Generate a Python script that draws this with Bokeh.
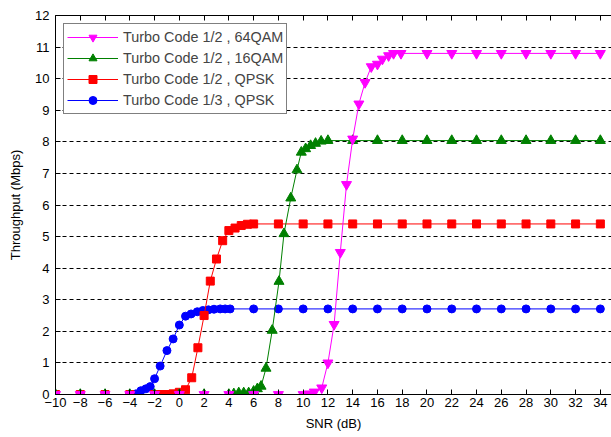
from bokeh.plotting import figure
from bokeh.models import Range1d, FixedTicker, LinearAxis, Legend, LegendItem
from bokeh.embed import file_html
from bokeh.resources import INLINE

# ---- data ----
x_ticks = list(range(-10, 35, 2))
y_ticks = list(range(0, 13))

snr_13_qpsk = [-4, -3.5, -3.1, -2.7, -2.35, -2, -1.55, -1, -0.5, 0, 0.5, 0.95, 1.45, 1.9,
               2.35, 2.8, 3.3, 3.7, 4.1, 6, 8, 10, 12, 14, 16, 18, 20, 22, 24, 26, 28, 30, 32, 34]
thr_13_qpsk = [0.01, 0.02, 0.12, 0.18, 0.25, 0.5, 0.9, 1.39, 1.76, 2.2, 2.48, 2.55, 2.62, 2.66,
               2.68, 2.7, 2.71, 2.71, 2.71, 2.71, 2.71, 2.71, 2.71, 2.71, 2.71, 2.71, 2.71, 2.71,
               2.71, 2.71, 2.71, 2.71, 2.71, 2.71]

snr_12_qpsk = [-10, -8, -6, -4, -2, -1.5, -1, -0.5, 0, 0.5, 1, 1.5, 2, 2.5, 3, 3.5, 4, 4.5, 5,
               5.5, 6, 8, 10, 12, 14, 16, 18, 20, 22, 24, 26, 28, 30, 32, 34]
thr_12_qpsk = [0, 0, 0, 0, 0, 0, 0, 0.02, 0.07, 0.15, 0.53, 1.48, 2.5, 3.59, 4.29, 4.87, 5.19,
               5.27, 5.35, 5.39, 5.4, 5.4, 5.4, 5.4, 5.4, 5.4, 5.4, 5.4, 5.4, 5.4, 5.4, 5.4, 5.4,
               5.4, 5.4]

snr_12_16qam = [-10, -8, -6, -4, -2, 0, 2, 4, 4.4, 4.8, 5.2, 5.6, 6, 6.3, 6.6, 7, 7.5, 8.05,
                8.45, 9, 9.5, 9.85, 10.2, 10.6, 11, 11.45, 12, 14, 16, 18, 20, 22, 24, 26, 28,
                30, 32, 34]
thr_12_16qam = [0, 0, 0, 0, 0, 0, 0, 0, 0.02, 0.05, 0.05, 0.05, 0.1, 0.18, 0.26, 0.83, 2.03,
                3.58, 5.09, 6.22, 7.11, 7.67, 7.78, 7.88, 7.95, 8.02, 8.04, 8.04, 8.04, 8.04,
                8.04, 8.04, 8.04, 8.04, 8.04, 8.04, 8.04, 8.04]

snr_12_64qam = [-10, -8, -6, -4, -2, 0, 2, 4, 6, 8, 10, 10.5, 10.9, 11.5, 12, 12.5, 13, 13.5,
                14, 14.5, 15, 15.5, 16, 16.4, 16.9, 17.3, 17.9, 20, 22, 24, 26, 28, 30, 32, 34]
thr_12_64qam = [0, 0, 0, 0, 0, 0, 0, 0, 0, 0, 0, 0.02, 0.08, 0.21, 1.0, 2.22, 4.5, 6.65, 8.09,
                9.2, 9.88, 10.38, 10.46, 10.62, 10.73, 10.8, 10.8, 10.8, 10.8, 10.8, 10.8, 10.8,
                10.8, 10.8, 10.8]

labels = ["Turbo Code 1/2 , 64QAM", "Turbo Code 1/2 , 16QAM",
          "Turbo Code 1/2 , QPSK", "Turbo Code 1/3 , QPSK"]

FONT = "Liberation Sans"

p = figure(width=611, height=437, output_backend="svg", toolbar_location=None,
           x_range=Range1d(-10, 34.9), y_range=Range1d(0, 12),
           min_border_left=55, min_border_top=15, min_border_right=0, min_border_bottom=43)
p.outline_line_color = None
p.background_fill_color = "white"
p.border_fill_color = "white"

p.xgrid.visible = False
p.ygrid.ticker = FixedTicker(ticks=y_ticks)
p.ygrid.grid_line_color = "black"
p.ygrid.grid_line_dash = "4 3"
p.ygrid.grid_line_width = 1

for ax in (p.xaxis[0], p.yaxis[0]):
    ax.major_tick_in = 5
    ax.major_tick_out = 0
    ax.minor_tick_line_color = None
    ax.axis_line_color = "black"
    ax.major_tick_line_color = "black"
    ax.major_label_text_font = FONT
    ax.major_label_text_font_size = "13px"
    ax.major_label_text_color = "black"
    ax.axis_label_text_font = FONT
    ax.axis_label_text_font_size = "13px"
    ax.axis_label_text_font_style = "normal"
    ax.axis_label_text_color = "black"

p.xaxis.ticker = FixedTicker(ticks=x_ticks)
p.yaxis.ticker = FixedTicker(ticks=y_ticks)
p.xaxis.axis_label = "SNR (dB)"
p.yaxis.axis_label = "Throughput (Mbps)"
p.xaxis.major_label_standoff = 3
p.xaxis.axis_label_standoff = 6
p.yaxis.major_label_standoff = 6
p.yaxis.axis_label_standoff = 9

top = LinearAxis(ticker=FixedTicker(ticks=x_ticks), major_tick_in=5, major_tick_out=0,
                 minor_tick_line_color=None, major_label_text_font_size="1px",
                 major_label_text_color=None, major_label_standoff=0,
                 axis_line_color="black", major_tick_line_color="black")
p.add_layout(top, "above")

series = [
    (snr_13_qpsk, thr_13_qpsk, "blue", "circle", 8),
    (snr_12_qpsk, thr_12_qpsk, "red", "square", 8),
    (snr_12_16qam, thr_12_16qam, "green", "triangle", 10),
    (snr_12_64qam, thr_12_64qam, "magenta", "inverted_triangle", 10),
]
rends = []
for xs, ys, col, mk, sz in series:
    ln = p.line(xs, ys, line_color=col, line_width=1)
    sc = p.scatter(xs, ys, marker=mk, size=sz, fill_color=col, line_color=col)
    rends.append([ln, sc])

items = [LegendItem(label=labels[0], renderers=rends[3]),
         LegendItem(label=labels[1], renderers=rends[2]),
         LegendItem(label=labels[2], renderers=rends[1]),
         LegendItem(label=labels[3], renderers=rends[0])]
legend = Legend(items=items, location="top_left", margin=8, padding=3, spacing=1,
                glyph_height=20, glyph_width=51, label_standoff=5, label_height=20,
                label_text_font=FONT, label_text_font_size="14.4px",
                border_line_color="black", border_line_width=1,
                background_fill_color="white", background_fill_alpha=1)
p.add_layout(legend)

open("out.html", "w").write(file_html(p, INLINE))
